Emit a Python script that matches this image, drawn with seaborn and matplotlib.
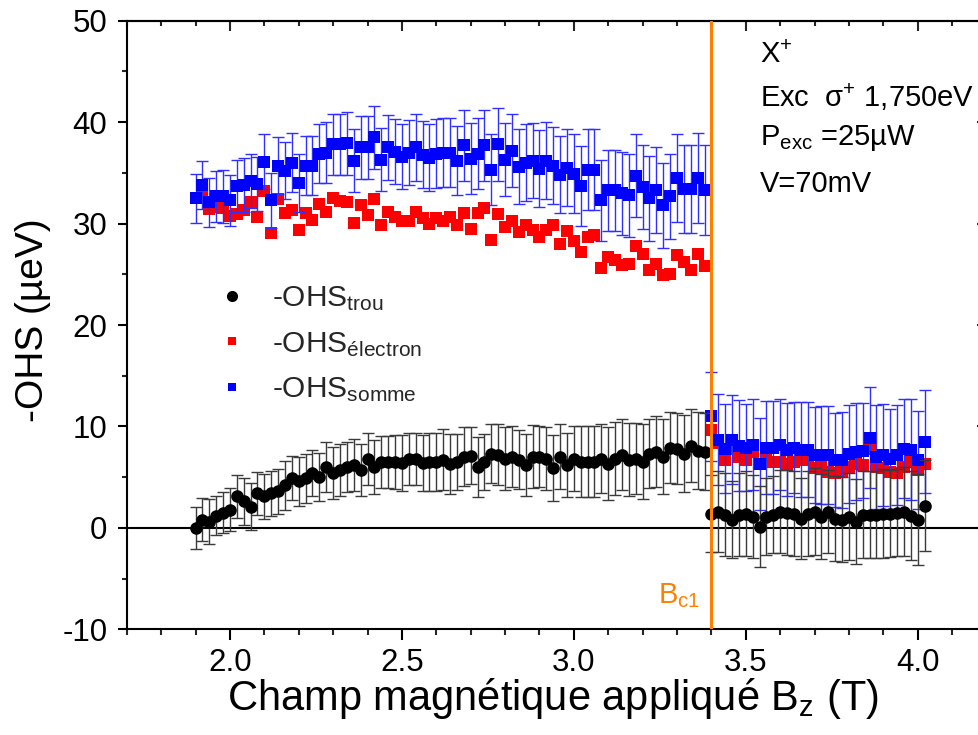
import numpy as np
import pandas as pd
import matplotlib
matplotlib.use("Agg")
import matplotlib.pyplot as plt
import seaborn as sns
from matplotlib.lines import Line2D
from matplotlib.ticker import MultipleLocator

# ---------------- data ----------------
B_before = [1.90, 1.92, 1.94, 1.96, 1.98, 2.00, 2.02, 2.04, 2.06, 2.08,
            2.10, 2.12, 2.14, 2.16, 2.18, 2.20, 2.22, 2.24, 2.26, 2.28,
            2.30, 2.32, 2.34, 2.36, 2.38, 2.40, 2.42, 2.44, 2.46, 2.48,
            2.50, 2.52, 2.54, 2.56, 2.58, 2.60, 2.62, 2.64, 2.66, 2.68,
            2.70, 2.72, 2.74, 2.76, 2.78, 2.80, 2.82, 2.84, 2.86, 2.88,
            2.90, 2.92, 2.94, 2.96, 2.98, 3.00, 3.02, 3.04, 3.06, 3.08,
            3.10, 3.12, 3.14, 3.16, 3.18, 3.20, 3.22, 3.24, 3.26, 3.28,
            3.30, 3.32, 3.34, 3.36, 3.38]
B_after = [3.40, 3.42, 3.44, 3.46, 3.48, 3.50, 3.52, 3.54, 3.56, 3.58,
           3.60, 3.62, 3.64, 3.66, 3.68, 3.70, 3.72, 3.74, 3.76, 3.78,
           3.80, 3.82, 3.84, 3.86, 3.88, 3.90, 3.92, 3.94, 3.96, 3.98,
           4.00, 4.02]

trou_before = [0.0, 0.8, 0.6, 1.2, 1.5, 1.8, 3.1, 2.6, 2.1, 3.4,
               3.1, 3.4, 3.6, 4.2, 4.9, 4.6, 4.9, 5.4, 5.0, 6.0,
               5.4, 5.7, 6.0, 6.2, 5.7, 6.8, 6.0, 6.5, 6.5, 6.5,
               6.4, 6.8, 6.8, 6.4, 6.5, 6.5, 6.7, 6.3, 6.5, 7.0,
               7.1, 6.0, 6.5, 7.3, 7.2, 6.8, 7.0, 6.7, 6.2, 7.0,
               7.0, 6.8, 5.9, 7.0, 6.2, 6.8, 6.5, 6.5, 6.5, 6.8,
               6.3, 6.8, 7.2, 6.7, 6.8, 6.5, 7.3, 7.5, 7.0, 7.9,
               7.8, 7.3, 8.1, 7.6, 7.5]
trou_err_before = [2.1, 2.1, 2.2, 1.9, 2.0, 2.1, 2.1, 2.3, 2.3, 2.1,
                   2.2, 2.2, 2.2, 2.4, 2.2, 2.4, 2.4, 2.3, 2.4, 2.5,
                   2.6, 2.6, 2.5, 2.6, 2.6, 2.6, 2.7, 2.6, 2.6, 2.7,
                   2.8, 2.6, 2.6, 2.8, 2.9, 2.9, 3.0, 3.0, 2.8, 2.9,
                   2.8, 3.0, 2.8, 2.9, 3.0, 3.1, 3.0, 2.9, 3.1, 3.1,
                   3.0, 3.1, 3.3, 3.2, 3.2, 3.2, 3.5, 3.5, 3.5, 3.4,
                   3.6, 3.6, 3.5, 3.6, 3.5, 3.7, 3.4, 3.5, 3.7, 3.5,
                   3.5, 3.8, 3.6, 3.8, 3.8]
trou_after = [1.4, 1.6, 1.3, 0.8, 1.3, 1.4, 1.1, 0.1, 1.1, 1.3,
              1.6, 1.5, 1.4, 0.9, 1.4, 1.6, 1.1, 1.6, 0.9, 0.8,
              1.1, 0.6, 1.3, 1.3, 1.3, 1.4, 1.4, 1.5, 1.6, 1.2,
              0.8, 2.2]
trou_err_after = [3.8, 4.0, 4.1, 3.8, 4.1, 4.2, 4.1, 4.0, 3.8, 3.8,
                  4.1, 4.2, 4.2, 4.0, 4.2, 4.3, 4.2, 4.1, 4.2, 4.2,
                  4.3, 4.2, 4.3, 4.3, 4.3, 4.4, 4.3, 4.3, 4.4, 4.4,
                  4.5, 4.5]

electron_before = [32.5, 32.9, 31.4, 31.6, 31.5, 30.7, 30.9, 31.3, 32.1, 30.6,
                   33.2, 29.1, 32.4, 31.0, 31.3, 29.4, 31.0, 30.4, 31.9, 31.1,
                   32.5, 32.2, 32.1, 30.1, 31.8, 30.8, 32.4, 29.9, 31.1, 30.6,
                   30.3, 30.3, 31.1, 30.5, 30.0, 30.5, 30.3, 30.6, 29.9, 31.0,
                   29.5, 31.0, 31.5, 28.4, 30.9, 29.7, 30.3, 29.2, 29.9, 29.4,
                   28.7, 29.4, 29.9, 28.0, 29.3, 28.3, 27.2, 28.7, 28.9, 25.6,
                   26.7, 26.4, 25.9, 26.0, 27.8, 27.0, 25.4, 26.0, 24.9, 25.0,
                   26.9, 26.2, 25.4, 27.0, 25.8]
electron_after = [9.6, 8.4, 6.7, 7.8, 7.0, 6.7, 7.5, 6.3, 6.7, 6.5,
                  6.5, 6.3, 6.5, 6.7, 6.7, 5.9, 6.0, 5.5, 5.4, 5.6,
                  6.0, 6.3, 6.2, 7.8, 6.0, 5.9, 5.5, 5.4, 6.0, 6.5,
                  5.7, 6.3]

somme_before = [32.5, 33.8, 32.1, 32.7, 32.7, 32.3, 33.7, 33.8, 34.2, 33.9,
                36.1, 32.3, 35.7, 35.2, 36.0, 34.0, 35.7, 35.7, 36.9, 37.0,
                37.8, 37.8, 37.9, 36.2, 37.5, 37.5, 38.5, 36.3, 37.5, 37.1,
                36.6, 37.0, 37.5, 36.8, 36.5, 36.9, 37.0, 37.0, 36.2, 37.7,
                36.4, 36.9, 37.7, 35.3, 37.8, 36.3, 37.2, 35.6, 36.0, 36.2,
                35.4, 36.2, 35.7, 34.8, 35.5, 34.9, 33.7, 35.3, 35.3, 32.3,
                33.3, 33.3, 33.0, 32.8, 34.7, 33.6, 32.5, 33.3, 31.8, 32.7,
                34.5, 33.4, 33.4, 34.5, 33.3]
somme_err_before = [2.4, 2.4, 2.4, 2.5, 2.6, 2.5, 2.6, 2.7, 2.7, 2.7,
                    2.7, 2.7, 2.8, 2.8, 2.9, 2.9, 2.9, 2.9, 2.9, 3.0,
                    3.0, 3.0, 3.1, 3.1, 3.1, 3.1, 3.1, 3.1, 3.2, 3.2,
                    3.2, 3.2, 3.3, 3.3, 3.3, 3.4, 3.4, 3.4, 3.4, 3.5,
                    3.5, 3.5, 3.5, 3.5, 3.6, 3.6, 3.6, 3.7, 3.8, 3.7,
                    3.8, 3.8, 3.8, 3.8, 3.8, 3.9, 3.9, 4.0, 4.0, 4.0,
                    4.0, 4.0, 4.1, 4.1, 4.1, 4.1, 4.2, 4.2, 4.2, 4.2,
                    4.3, 4.3, 4.3, 4.4, 4.4]
somme_after = [11.0, 8.7, 7.8, 8.7, 8.1, 7.9, 8.2, 6.3, 7.9, 7.9,
               8.2, 7.7, 7.9, 7.7, 7.7, 7.2, 7.2, 7.2, 6.7, 6.7,
               7.3, 7.5, 7.6, 8.9, 7.0, 7.2, 6.8, 7.2, 7.8, 7.7,
               6.7, 8.5]
somme_err_after = [4.4, 4.5, 4.4, 4.4, 4.5, 4.3, 4.5, 4.5, 4.6, 4.6,
                   4.5, 4.6, 4.5, 4.7, 4.7, 4.7, 4.8, 4.8, 4.6, 4.7,
                   4.8, 4.8, 4.7, 5.0, 5.1, 5.0, 4.9, 4.9, 4.9, 5.0,
                   4.8, 5.1]

B_c1 = 3.40
x_ticks = [2.0, 2.5, 3.0, 3.5, 4.0]
y_ticks = [-10, 0, 10, 20, 30, 40, 50]
legend_labels = [r"-OHS$_{\mathregular{trou}}$",
                 r"-OHS$_{\mathregular{électron}}$",
                 r"-OHS$_{\mathregular{somme}}$"]
info_lines = [r"X$^{\mathregular{+}}$",
              r"Exc  $\mathregular{\sigma}^{\mathregular{+}}$ 1,750eV",
              r"P$_{\mathregular{exc}}$ =25µW",
              "V=70mV"]

# ---------------- style ----------------
sns.set_theme(style="ticks")
plt.rcParams["font.family"] = ["Liberation Sans", "DejaVu Sans"]
plt.rcParams["mathtext.fontset"] = "custom"
plt.rcParams["mathtext.rm"] = "Liberation Sans"
plt.rcParams["mathtext.it"] = "Liberation Sans:italic"
plt.rcParams["mathtext.bf"] = "Liberation Sans:bold"
plt.rcParams["mathtext.sf"] = "Liberation Sans"

B_all = B_before + B_after
df = pd.DataFrame({
    "B": B_all * 3,
    "OHS": trou_before + trou_after + electron_before + electron_after
           + somme_before + somme_after,
    "serie": ["trou"] * len(B_all) + ["electron"] * len(B_all) + ["somme"] * len(B_all),
})

W, H = 979, 735
fig = plt.figure(figsize=(W / 100, H / 100), dpi=100)
x0, x1 = 126.8, 986.5
y0, y1 = 20.7, 629.3
ax = fig.add_axes([x0 / W, 1 - y1 / H, (x1 - x0) / W, (y1 - y0) / H])

ORANGE = "#FF8000"
ax.axhline(0, color="black", lw=1.5, zorder=1)
ax.axvline(B_c1, color=ORANGE, lw=2.2, zorder=6)

# red squares
sns.scatterplot(data=df[df.serie == "electron"], x="B", y="OHS", marker="s",
                color="#FF0000", s=68, linewidth=0, ax=ax, zorder=2, legend=False)
# blue error bars + squares
ax.errorbar(B_all, somme_before + somme_after, yerr=somme_err_before + somme_err_after,
            fmt="none", ecolor="#2f2fff", elinewidth=1.0, capsize=4.0, capthick=1.0, zorder=3)
sns.scatterplot(data=df[df.serie == "somme"], x="B", y="OHS", marker="s",
                color="#0000FF", s=68, linewidth=0, ax=ax, zorder=4, legend=False)
# black error bars + circles
ax.errorbar(B_all, trou_before + trou_after, yerr=trou_err_before + trou_err_after,
            fmt="none", ecolor="#3a3a3a", elinewidth=1.0, capsize=4.0, capthick=1.0, zorder=5)
sns.scatterplot(data=df[df.serie == "trou"], x="B", y="OHS", marker="o",
                color="black", s=82, linewidth=0, ax=ax, zorder=5.5, legend=False)

ax.set_xlim(1.70, 4.20)
ax.set_ylim(-10, 50)
ax.set_xticks(x_ticks)
ax.set_xticklabels([f"{v:.1f}" for v in x_ticks])
ax.set_yticks(y_ticks)
ax.set_yticklabels([str(v) for v in y_ticks])
ax.xaxis.set_minor_locator(MultipleLocator(0.1))
ax.yaxis.set_minor_locator(MultipleLocator(5))

for s in ax.spines.values():
    s.set_linewidth(1.5)
    s.set_color("black")
ax.tick_params(axis="both", which="major", direction="out", length=7.7, width=1.5,
               labelsize=22.5, colors="black")
ax.tick_params(axis="x", which="major", pad=5.5)
ax.tick_params(axis="y", which="major", length=6.5, pad=7.5)
ax.tick_params(axis="x", which="minor", direction="out", length=4.3, width=1.5)
ax.tick_params(axis="y", which="minor", direction="out", length=3.5, width=1.5)
ax.tick_params(top=False, right=False, which="both")

top = ax.secondary_xaxis("top")
top.set_xticks(x_ticks)
top.xaxis.set_minor_locator(MultipleLocator(0.1))
top.tick_params(which="major", direction="in", length=7.2, width=1.5, labeltop=False)
top.tick_params(which="minor", direction="in", length=3.6, width=1.5)
top.spines["top"].set_linewidth(1.5)
right = ax.secondary_yaxis("right")
right.set_yticks(y_ticks)
right.yaxis.set_minor_locator(MultipleLocator(5))
right.tick_params(which="major", direction="in", length=7.2, width=1.5, labelright=False)
right.tick_params(which="minor", direction="in", length=3.6, width=1.5)

ax.set_xlabel(r"Champ magnétique appliqué B$_{\mathregular{z}}$ (T)", fontsize=30, color="black")
ax.set_ylabel("-OHS (µeV)", fontsize=28, color="black")
ax.xaxis.set_label_coords((553 - x0) / (x1 - x0), -(676 - y1) / (y1 - y0))
ax.yaxis.set_label_coords(-(x0 - 51) / (x1 - x0), 0.5 + (325 - 320) / (y1 - y0))

handles = [
    Line2D([], [], ls="none", marker="o", color="black", markersize=8, mew=0),
    Line2D([], [], ls="none", marker="s", color="#FF0000", markersize=6, mew=0),
    Line2D([], [], ls="none", marker="s", color="#0000FF", markersize=6, mew=0),
]
ax.legend(handles, legend_labels, loc="upper left", bbox_to_anchor=(217 / W, 1 - 284 / H),
          bbox_transform=fig.transFigure, frameon=False, fontsize=21.5, handlelength=1.0,
          handletextpad=0.85, labelspacing=0.57, borderpad=0, borderaxespad=0)

baselines = [63, 107, 145, 192]
for txt, yb in zip(info_lines, baselines):
    fig.text(760 / W, 1 - yb / H, txt, fontsize=21, va="baseline", ha="left", color="black")

fig.text(700 / W, 1 - 603 / H, r"B$_{\mathregular{c1}}$", fontsize=21, color=ORANGE,
         ha="right", va="baseline")

fig.savefig("out.png", dpi=100)
